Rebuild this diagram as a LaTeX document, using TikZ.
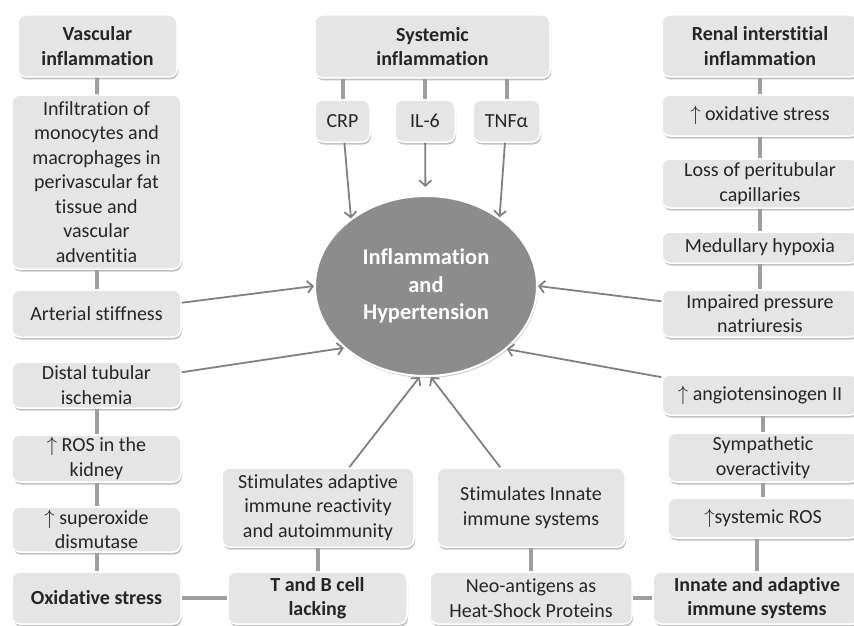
\documentclass[tikz,border=0pt]{standalone}
\usepackage{fontspec}
\setmainfont{Carlito}[Ligatures = NoCommon]
\usetikzlibrary{arrows.meta,calc,shadows,shapes.geometric}

\begin{document}
\begin{tikzpicture}[x = 1pt, y = -1pt, font = \fontsize{20}{24.5}\selectfont,
  box/.style = {draw = white, line width = 1.5pt, fill = black!10, rounded corners = 8pt,
    align = center, text = black!85, inner sep = 0pt,
    drop shadow = {shadow xshift = 1pt, shadow yshift = -2.5pt, fill = black!40, opacity = 0.6}},
  head/.style = {box, font = \fontsize{20}{24.5}\selectfont\bfseries},
  hub/.style = {ellipse, draw = white, line width = 2pt, fill = black!45, text = white,
    align = center, inner sep = 0pt, font = \fontsize{22.5}{27.5}\selectfont\bfseries,
    drop shadow = {shadow xshift = 1pt, shadow yshift = -2pt, fill = black!30, opacity = 0.6}},
  link/.style = {draw = black!38, line width = 4pt},
  arr/.style = {draw = black!50, line width = 1.8pt, -{Straight Barb[length = 5.5pt, width = 12pt]}}]
\useasboundingbox (0, 0) rectangle (854, 626);

% left column
\node[head, minimum width = 159, minimum height = 62] (vasc) at (97.5, 46) {Vascular\\inflammation};
\node[box, minimum width = 169, minimum height = 174] (infil) at (96.5, 182) {Infiltration of\\monocytes and\\macrophages in\\perivascular fat\\tissue and\\vascular\\adventitia};
\node[box, minimum width = 169, minimum height = 47] (arter) at (96.5, 313.5) {Arterial stiffness};
\node[box, minimum width = 169, minimum height = 46] (distal) at (96.5, 385) {Distal tubular\\ischemia};
\node[box, minimum width = 169, minimum height = 47] (rosk) at (96.5, 458.5) {$\uparrow$ ROS in the\\kidney};
\node[box, minimum width = 169, minimum height = 45] (sod) at (96.5, 529.5) {$\uparrow$ superoxide\\dismutase};
\node[head, minimum width = 169, minimum height = 52] (oxs) at (96.5, 598) {Oxidative stress};

% middle
\node[head, minimum width = 235, minimum height = 63] (sys) at (432.5, 46.5) {Systemic\\inflammation};
\node[box, minimum width = 55, minimum height = 42] (crp) at (342.5, 121) {CRP};
\node[box, minimum width = 60, minimum height = 42] (il6) at (425, 121) {IL-6};
\node[box, minimum width = 67, minimum height = 42] (tnf) at (506.5, 121) {TNFα};
\node[hub, minimum width = 222, minimum height = 180] (hub) at (426, 286) {Inflammation\\and\\Hypertension};
\node[box, minimum width = 192, minimum height = 79] (adapt) at (318, 507.5) {Stimulates adaptive\\immune reactivity\\and autoimmunity};
\node[head, minimum width = 179, minimum height = 52] (tbc) at (317.5, 598) {T and B cell\\lacking};
\node[box, minimum width = 188, minimum height = 79] (innate) at (531, 507.5) {Stimulates Innate\\immune systems};
\node[box, minimum width = 202, minimum height = 52] (neo) at (531, 598) {Neo-antigens as\\Heat-Shock Proteins};

% right column
\node[head, minimum width = 196, minimum height = 62] (renal) at (760, 46) {Renal interstitial\\inflammation};
\node[box, minimum width = 196, minimum height = 41] (oxst) at (760, 115.5) {$\uparrow$ oxidative stress};
\node[box, minimum width = 196, minimum height = 49] (loss) at (760, 183.5) {Loss of peritubular\\capillaries};
\node[box, minimum width = 196, minimum height = 31] (medh) at (760, 247.5) {Medullary hypoxia};
\node[box, minimum width = 196, minimum height = 47] (imppn) at (760, 313.5) {Impaired pressure\\natriuresis};
\node[box, minimum width = 196, minimum height = 40] (angio) at (760, 395) {$\uparrow$ angiotensinogen II};
\node[box, minimum width = 190, minimum height = 49] (symp) at (763, 457.5) {Sympathetic\\overactivity};
\node[box, minimum width = 190, minimum height = 40] (sros) at (763, 518) {$\uparrow$systemic ROS};
\node[head, minimum width = 208, minimum height = 52] (inad) at (757, 598) {Innate and adaptive\\immune systems};

% plain links
\draw[link] (vasc) -- (infil);
\draw[link] (infil) -- (arter);
\draw[link] (distal) -- (rosk);
\draw[link] (rosk) -- (sod);
\draw[link] (sod) -- (oxs);
\draw[link] (oxs) -- (tbc);
\draw[link] (tbc) -- (tbc |- adapt.south);
\draw[link] (crp.north) -- (crp.north |- sys.south);
\draw[link] (il6.north) -- (il6.north |- sys.south);
\draw[link] (tnf.north) -- (tnf.north |- sys.south);
\draw[link] (neo) -- (neo |- innate.south);
\draw[link] (neo) -- (inad);
\draw[link] (renal) -- (oxst);
\draw[link] (oxst) -- (loss);
\draw[link] (loss) -- (medh);
\draw[link] (medh) -- (imppn);
\draw[link] (inad.north) -- (inad.north |- sros.south);
\draw[link] (sros) -- (symp);
\draw[link] (symp.north) -- (symp.north |- angio.south);

% arrows into the hub
\draw[arr] (crp) -- (hub.138);
\draw[arr, shorten >= 8pt] (il6) -- (hub);
\draw[arr] (tnf) -- (hub.43);
\draw[arr] (arter) -- (hub.180);
\draw[arr] (distal) -- (hub.217);
\draw[arr] (imppn) -- (hub.0);
\draw[arr] (angio) -- (hub.322);
\draw[arr] (adapt) -- (hub.266);
\draw[arr] (innate) -- (hub.273);
\end{tikzpicture}
\end{document}
